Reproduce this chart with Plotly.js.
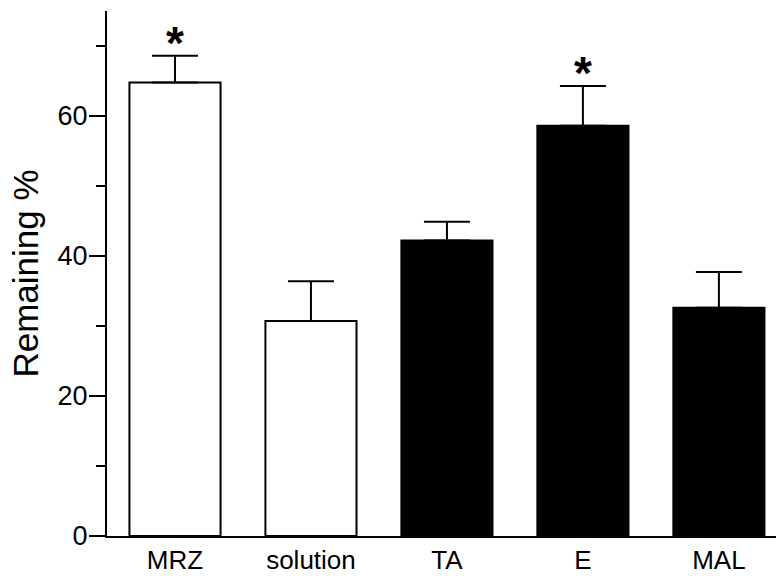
<!DOCTYPE html>
<html>
<head>
<meta charset="utf-8">
<script src="https://cdn.plot.ly/plotly-3.0.1.min.js"></script>
<style>
  html, body { margin: 0; padding: 0; background: #fff; }
  #chart { width: 776px; height: 576px; }
</style>
</head>
<body>
<div id="chart"></div>
<script>
// Groups and mean remaining percentage with upper SD
const groups = ['MRZ', 'solution', 'TA', 'E', 'MAL'];
const remaining = [64.8, 30.7, 42.2, 58.6, 32.6];
const errorUp = [3.8, 5.7, 2.7, 5.7, 5.1];
const significance = ['*', '', '', '*', ''];
const fills = ['#ffffff', '#ffffff', '#000000', '#000000', '#000000'];

const bars = {
  type: 'bar',
  x: groups,
  y: remaining,
  width: 0.67,
  marker: { color: fills, line: { color: '#000', width: 2 } },
  error_y: {
    type: 'data',
    symmetric: false,
    array: errorUp,
    arrayminus: groups.map(() => 0),
    color: '#000',
    thickness: 2,
    width: 23
  },
  hoverinfo: 'skip'
};

const annotations = groups
  .map((g, i) => ({ g, i }))
  .filter(d => significance[d.i])
  .map(d => ({
    x: d.g,
    y: remaining[d.i] + errorUp[d.i],
    xref: 'x', yref: 'y',
    text: '<b>' + significance[d.i] + '</b>',
    showarrow: false,
    yanchor: 'bottom',
    yshift: -15,
    font: { family: 'Liberation Sans, Arial, sans-serif', size: 46, color: '#000' }
  }));

const layout = {
  width: 776,
  height: 576,
  margin: { l: 107, r: 0, t: 11, b: 40 },
  paper_bgcolor: '#fff',
  plot_bgcolor: '#fff',
  showlegend: false,
  font: { family: 'Liberation Sans, Arial, sans-serif', color: '#000' },
  xaxis: {
    type: 'category',
    range: [-0.5, 4.42],
    showline: true,
    linecolor: '#000',
    linewidth: 2,
    ticks: '',
    showgrid: false,
    zeroline: false,
    tickfont: { size: 26 },
    ticklabelstandoff: 0
  },
  yaxis: {
    range: [0, 75],
    showline: true,
    linecolor: '#000',
    linewidth: 2,
    ticks: 'outside',
    ticklen: 16,
    tickwidth: 2,
    tickcolor: '#000',
    tickvals: [0, 20, 40, 60],
    minor: { tickvals: [10, 30, 50, 70], ticks: 'outside', ticklen: 9, tickwidth: 2, tickcolor: '#000', showgrid: false },
    showgrid: false,
    zeroline: false,
    tickfont: { size: 27 },
    ticklabelstandoff: -4,
    title: { text: 'Remaining %', font: { size: 35 }, standoff: 8 }
  },
  annotations: annotations
};

Plotly.newPlot('chart', [bars], layout, { displayModeBar: false, staticPlot: true });
</script>
</body>
</html>
